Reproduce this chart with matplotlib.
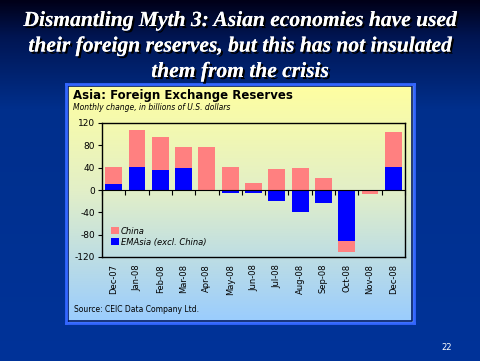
import matplotlib.pyplot as plt
import matplotlib.patheffects as pe
import numpy as np
from matplotlib.colors import LinearSegmentedColormap

# Monthly change in FX reserves, bn USD
months = ["Dec-07", "Jan-08", "Feb-08", "Mar-08", "Apr-08", "May-08", "Jun-08",
          "Jul-08", "Aug-08", "Sep-08", "Oct-08", "Nov-08", "Dec-08"]
china = [32, 66, 60, 38, 77, 41, 12, 37, 39, 21, -19, -8, 62]
em_asia = [10, 42, 35, 39, 0, -6, -6, -20, -40, -24, -92, 0, 41]
yticks = [120, 80, 40, 0, -40, -80, -120]

fig = plt.figure(figsize=(4.8, 3.61), dpi=100)

# slide background: dark navy at top fading to blue
bg = fig.add_axes([0, 0, 1, 1], zorder=0)
bg_cmap = LinearSegmentedColormap.from_list(
    "bg", [(0, "#000018"), (0.1, "#001552"), (0.3, "#002f8c"), (1, "#003399")])
bg.imshow(np.linspace(0, 1, 256).reshape(-1, 1), aspect="auto", cmap=bg_cmap,
          extent=[0, 1, 0, 1])
bg.set_xlim(0, 1)
bg.set_ylim(0, 1)
bg.axis("off")

# title with shadow
title_lines = ["Dismantling Myth 3: Asian economies have used",
               "their foreign reserves, but this has not insulated",
               "them from the crisis"]
for i, line in enumerate(title_lines):
    fig.text(0.5, 1 - (21 + 25.5 * i) / 361, line, ha="center", va="center",
             color="white", fontsize=15.5, fontweight="bold", fontstyle="italic",
             family="Liberation Serif",
             path_effects=[pe.withSimplePatchShadow(offset=(1.5, -1.5),
                                                    shadow_rgbFace="black", alpha=1),
                           pe.Normal()])

# chart panel: yellow to light blue gradient with a blue border
panel = fig.add_axes([66 / 480, 1 - 323 / 361, 348 / 480, 239 / 361], zorder=1)
panel_cmap = LinearSegmentedColormap.from_list(
    "panel", [(0, "#ffffa0"), (0.45, "#e2efc8"), (1, "#99ccff")])
panel.imshow(np.linspace(0, 1, 256).reshape(-1, 1), aspect="auto", cmap=panel_cmap,
             extent=[0, 1, 0, 1])
panel.set_xlim(0, 1)
panel.set_ylim(0, 1)
panel.set_xticks([])
panel.set_yticks([])
for s in panel.spines.values():
    s.set_color("#3366ff")
    s.set_linewidth(2)
panel.plot([0.006, 0.994, 0.994, 0.006, 0.006], [0.008, 0.008, 0.992, 0.992, 0.008],
           color="#001a66", lw=1.2)

fig.text(73 / 480, 1 - 95 / 361, "Asia: Foreign Exchange Reserves", fontsize=8.5,
         fontweight="bold", color="black", va="center", zorder=5)
fig.text(73 / 480, 1 - 108 / 361, "Monthly change, in billions of U.S. dollars",
         fontsize=5.5, fontstyle="italic", color="black", va="center", zorder=5)
fig.text(74 / 480, 1 - 309 / 361, "Source: CEIC Data Company Ltd.", fontsize=5.5,
         color="black", va="center", zorder=5)
fig.text(447 / 480, 1 - 347 / 361, "22", fontsize=6, color="white",
         ha="center", va="center", zorder=5)

# the bar chart
ax = fig.add_axes([102 / 480, 1 - 257 / 361, 303 / 480, 134 / 361], zorder=2)
ax.patch.set_alpha(0)
x = np.arange(len(months))
em = np.array(em_asia)
ch = np.array(china)
em_pos = np.where(em > 0, em, 0)
em_neg = np.where(em < 0, em, 0)
ch_base = np.where(ch >= 0, em_pos, em_neg)
ax.bar(x, em, width=0.72, color="#0000ff", label="EMAsia (excl. China)", zorder=3)
ax.bar(x, ch, width=0.72, bottom=ch_base, color="#ff8080", label="China", zorder=3)

ax.set_xlim(-0.5, len(months) - 0.5)
ax.set_ylim(-120, 120)
ax.set_yticks(yticks)
ax.set_yticklabels([str(v) for v in yticks])
ax.set_xticks(x)
ax.set_xticklabels(months, rotation=90, va="top")
ax.tick_params(axis="x", length=0, pad=5, labelsize=6)
ax.tick_params(axis="y", direction="out", length=3, labelsize=6.5, pad=2)
for s in ax.spines.values():
    s.set_linewidth(1)
    s.set_color("black")

# zero line with category-boundary ticks
zero = ax.secondary_xaxis(0.5)
zero.set_xticks(np.arange(len(months) + 1) - 0.5, labels=[""] * (len(months) + 1))
zero.xaxis.set_ticks_position("bottom")
zero.tick_params(direction="out", length=3.5, width=0.8, bottom=True, top=False)
zero.spines["bottom"].set_linewidth(1)
zero.set_zorder(4)

handles, labels = ax.get_legend_handles_labels()
leg = ax.legend(handles[::-1], labels[::-1], loc="lower left", frameon=False,
                fontsize=6, handlelength=0.9, handleheight=0.9, handletextpad=0.3,
                labelspacing=0.25, bbox_to_anchor=(0.005, 0.02))
for t in leg.get_texts():
    t.set_fontstyle("italic")

fig.savefig("out.png", dpi=100)
